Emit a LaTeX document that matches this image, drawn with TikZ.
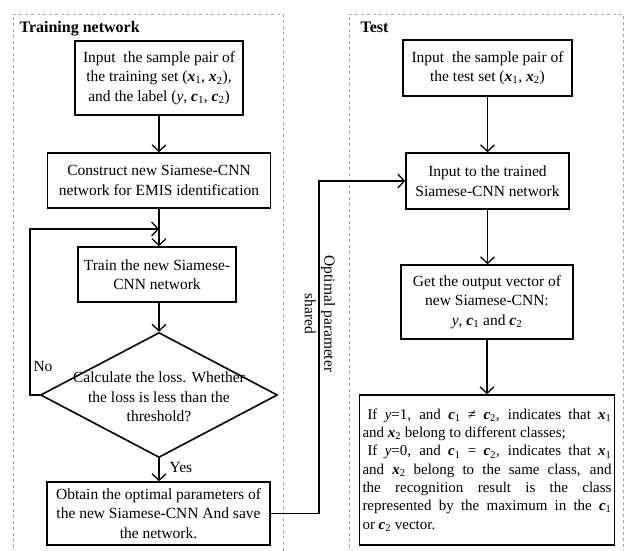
\documentclass[tikz,border=0pt]{standalone}
\usepackage{fontspec}
\setmainfont{Liberation Serif}
\usetikzlibrary{arrows.meta,shapes.geometric,calc}
\newcommand\vx[1]{\textbf{\textit{x}}\textsubscript{#1}}
\newcommand\vc[1]{\textbf{\textit{c}}\textsubscript{#1}}
\begin{document}
\begin{tikzpicture}[x=1pt,y=-1pt,
  txt/.style={font=\fontsize{15.5}{19.5}\selectfont},
  box/.style={draw,line width=1.6pt,align=center,inner sep=2pt,txt},
  conn/.style={line width=1.3pt,-{Straight Barb[length=6.5pt,width=14pt,line width=1.3pt]}},
  panel/.style={draw=gray!70,dashed,line width=0.6pt},
  ttl/.style={anchor=base west,font=\bfseries\fontsize{16}{19}\selectfont},
  ]
\useasboundingbox (0,0) rectangle (625,551);
% panels
\draw[panel] (13,560) -- (13,14) -- (283,14) -- (283,560);
\draw[panel] (349,560) -- (349,14) -- (623,14) -- (623,560);
\node[ttl] (t1) at (16,33) {Training network};
\node[ttl] (t2) at (357,33) {Test};
% left column
\node[box,minimum width=168pt,minimum height=74pt] (b1) at (159,78)
  {Input\ \ the sample pair of\\the training set (\vx1, \vx2),\\and the label (\textit{y}, \vc1, \vc2)};
\node[box,minimum width=223pt,minimum height=55pt] (b2) at (159,180.5)
  {Construct new Siamese-CNN\\network for EMIS identification};
\node[box,minimum width=158pt,minimum height=55pt] (b3) at (157,274.5)
  {Train the new Siamese-\\CNN network};
\node[draw,diamond,line width=1.6pt,minimum width=237pt,minimum height=125pt,inner sep=0pt] (dia) at (159,395) {};
\node[txt,align=center] (diat) at (159,397)
  {Calculate the loss. Whether\\the loss is less than the\\threshold?};
\node[box,minimum width=223pt,minimum height=63pt] (b4) at (158.5,513.5)
  {Obtain the optimal parameters of\\the new Siamese-CNN And save\\the network.};
\node[txt] (no) at (43,367) {No};
\node[txt] (yes) at (181,467) {Yes};
% right column
\node[box,minimum width=169pt,minimum height=56pt] (b5) at (487.5,68)
  {Input\ \ the sample pair of\\the test set (\vx1, \vx2)};
\node[box,minimum width=163pt,minimum height=56pt] (b6) at (487.5,181)
  {Input to the trained\\Siamese-CNN network};
\node[box,minimum width=172pt,minimum height=74pt] (b7) at (487,302)
  {Get the output vector of\\new Siamese-CNN:\\\textit{y}, \vc1 and \vc2};
\node[box,text width=249pt,align=justify,inner sep=3pt,minimum height=150pt,
  font=\fontsize{15}{18.3}\selectfont] (b8) at (487,470)
  {\hspace*{5pt}If \textit{y}=1, and \vc1 ≠ \vc2, indicates that \vx1\linebreak
   and \vx2 belong to different classes;\par
   \hspace*{5pt}If \textit{y}=0, and \vc1 = \vc2, indicates that \vx1\linebreak
   and \vx2 belong to the same class, and\linebreak
   the recognition result is the class\linebreak
   represented by the maximum in the \vc1\linebreak
   or \vc2 vector.};
% connectors
\coordinate (lp) at (30,229);
\coordinate (lpe) at (159,229);
\coordinate (sh) at (319,0);
\draw[conn] (b1.south) -- (b1.south |- b2.north);
\draw[conn] (b2.south) -- (b2.south |- b3.north);
\draw[conn] (b3.south -| dia.north) -- (dia.north);
\draw[conn] (dia.west) -| (lp) -- (lpe);
\draw[conn] (dia.south) -- (dia.south |- b4.north);
\draw[conn] (b4.east) -- (b4.east -| sh) |- (b6.west);
\node[txt,rotate=-90,align=center] (lab) at (320,314) {Optimal parameter\\shared};
\draw[conn] (b5.south) -- (b5.south |- b6.north);
\draw[conn] (b6.south) -- (b6.south |- b7.north);
\draw[conn] (b7.south) -- (b7.south |- b8.north);
\end{tikzpicture}
\end{document}
